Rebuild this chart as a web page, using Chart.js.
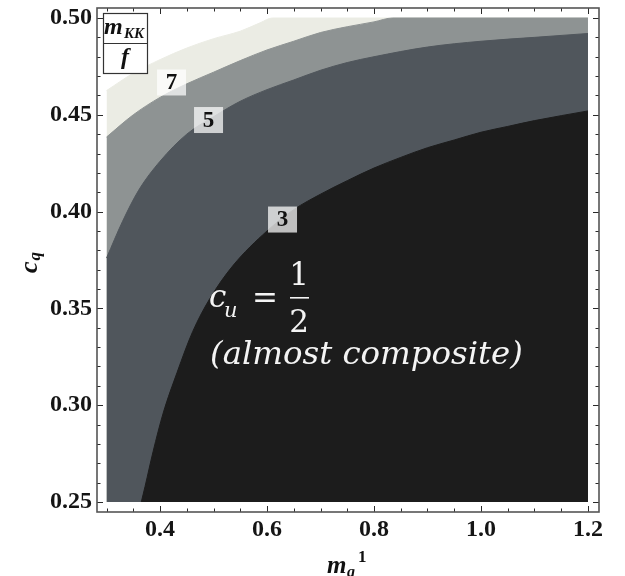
<!DOCTYPE html>
<html lang="en">
<head>
<meta charset="UTF-8">
<title>m_KK / f contours</title>
<script src="https://cdn.jsdelivr.net/npm/chart.js"></script>
<style>
  html, body { margin: 0; padding: 0; background: #fff; }
</style>
</head>
<body>
<canvas id="chart" width="625" height="576"></canvas>
<script>
// contour boundaries (x = m_q^1, y = c_q)
const c3X = [0.365, 0.372, 0.387, 0.406, 0.432, 0.461, 0.493, 0.536, 0.600, 0.650, 0.700, 0.750, 0.800, 0.850, 0.900, 0.950, 1.000, 1.050, 1.100, 1.200];
const c3Y = [0.250, 0.258, 0.276, 0.296, 0.317, 0.338, 0.355, 0.372, 0.390, 0.401, 0.409, 0.416, 0.4225, 0.428, 0.433, 0.437, 0.441, 0.444, 0.447, 0.452];

const c5X = [0.30, 0.33, 0.36, 0.40, 0.45, 0.50, 0.55, 0.60, 0.65, 0.70, 0.75, 0.80, 0.90, 1.00, 1.10, 1.20];
const c5Y = [0.376, 0.395, 0.411, 0.426, 0.440, 0.449, 0.457, 0.463, 0.468, 0.473, 0.477, 0.480, 0.485, 0.488, 0.490, 0.492];

const c7X = [0.30, 0.35, 0.40, 0.45, 0.50, 0.55, 0.60, 0.65, 0.70, 0.75, 0.80, 0.835, 1.20];
const c7Y = [0.4385, 0.450, 0.459, 0.466, 0.472, 0.478, 0.4835, 0.488, 0.4925, 0.4955, 0.498, 0.500, 0.500];

const c9X = [0.30, 0.35, 0.40, 0.45, 0.50, 0.55, 0.587, 0.61, 1.20];
const c9Y = [0.4625, 0.4715, 0.4785, 0.4845, 0.4893, 0.4932, 0.4975, 0.500, 0.500];

// contour labels
const labelText = ['7', '5', '3'];
const labelX = [0.4215, 0.4907, 0.629];
const labelY = [0.4667, 0.4473, 0.3959];

// axis ticks
const xMajor = [0.4, 0.6, 0.8, 1.0, 1.2];
const xMajorLabels = ['0.4', '0.6', '0.8', '1.0', '1.2'];
const xMinor = [0.3, 0.35, 0.45, 0.5, 0.55, 0.65, 0.7, 0.75, 0.85, 0.9, 0.95, 1.05, 1.1, 1.15];
const yMajor = [0.25, 0.30, 0.35, 0.40, 0.45, 0.50];
const yMajorLabels = ['0.25', '0.30', '0.35', '0.40', '0.45', '0.50'];
const yMinor = [0.26, 0.27, 0.28, 0.29, 0.31, 0.32, 0.33, 0.34, 0.36, 0.37, 0.38, 0.39,
                0.41, 0.42, 0.43, 0.44, 0.46, 0.47, 0.48, 0.49];

const pts = (xs, ys) => xs.map((x, i) => ({ x: x, y: ys[i] }));
const near = (a, b) => Math.abs(a - b) < 1e-9;
const SERIF = '"Liberation Serif", "Times New Roman", serif';
const tickFont = { family: SERIF, size: 24, weight: 'bold' };

function region(data, color) {
    return {
        data: data,
        borderColor: color,
        backgroundColor: color,
        borderWidth: 1,
        pointRadius: 0,
        fill: { value: 0.25 },
        cubicInterpolationMode: 'monotone'
    };
}

// contour labels in small grey boxes, and the white annotation
const contourLabels = {
    id: 'contourLabels',
    afterDatasetsDraw(chart) {
        const { ctx, scales: { x, y } } = chart;
        ctx.save();
        ctx.font = 'bold 23px ' + SERIF;
        ctx.textAlign = 'center';
        ctx.textBaseline = 'middle';
        labelText.forEach((t, i) => {
            const px = x.getPixelForValue(labelX[i]);
            const py = y.getPixelForValue(labelY[i]);
            ctx.fillStyle = 'rgba(255,255,255,0.72)';
            ctx.fillRect(px - 14.5, py - 13, 29, 26);
            ctx.fillStyle = '#111';
            ctx.fillText(t, px, py + 1);
        });

        // c_u = 1/2 (almost composite)
        const a = chart.chartArea;
        const ox = a.left, oy = a.top;
        ctx.fillStyle = '#f4f4f4';
        ctx.textAlign = 'left';
        ctx.textBaseline = 'alphabetic';
        ctx.font = 'italic 31px "DejaVu Serif", serif';
        ctx.fillText('c', ox + 112, oy + 299);
        ctx.font = 'italic 21px "DejaVu Serif", serif';
        ctx.fillText('u', ox + 127, oy + 309);
        ctx.font = '31px "DejaVu Serif", serif';
        ctx.textAlign = 'center';
        ctx.fillText('=', ox + 168, oy + 300);
        ctx.fillText('1', ox + 202, oy + 277);
        ctx.fillRect(ox + 193, oy + 289, 19, 1.6);
        ctx.fillText('2', ox + 202, oy + 324);
        ctx.textAlign = 'left';
        const txt = '(almost composite)';
        ctx.font = 'italic 32px "DejaVu Serif", serif';
        const w = ctx.measureText(txt).width;
        const fs = 32 * 313 / w;
        ctx.font = 'italic ' + fs.toFixed(1) + 'px "DejaVu Serif", serif';
        ctx.fillText(txt, ox + 113, oy + 356);
        ctx.restore();
    }
};

// frame with inward ticks on all four sides, plus the key box and axis titles
const frame = {
    id: 'frame',
    afterDraw(chart) {
        const { ctx, chartArea: a, scales: { x, y } } = chart;
        ctx.save();
        ctx.strokeStyle = '#2a2a2a';
        ctx.lineWidth = 1;
        ctx.beginPath();
        x.ticks.forEach(t => {
            const px = Math.round(x.getPixelForValue(t.value)) + 0.5;
            const len = xMajor.some(m => near(m, t.value)) ? 6 : 3.5;
            ctx.moveTo(px, a.bottom); ctx.lineTo(px, a.bottom - len);
            ctx.moveTo(px, a.top); ctx.lineTo(px, a.top + len);
        });
        y.ticks.forEach(t => {
            const py = Math.round(y.getPixelForValue(t.value)) + 0.5;
            const len = yMajor.some(m => near(m, t.value)) ? 6 : 3.5;
            ctx.moveTo(a.left, py); ctx.lineTo(a.left + len, py);
            ctx.moveTo(a.right, py); ctx.lineTo(a.right - len, py);
        });
        ctx.stroke();

        ctx.strokeStyle = '#555';
        ctx.lineWidth = 1.6;
        ctx.strokeRect(a.left, a.top, a.right - a.left, a.bottom - a.top);

        // key box m_KK / f
        const bx = a.left + 6, by = a.top + 5;
        ctx.fillStyle = '#fff';
        ctx.fillRect(bx, by, 44, 60);
        ctx.strokeStyle = '#333';
        ctx.lineWidth = 1.2;
        ctx.strokeRect(bx + 0.5, by + 0.5, 44, 60);
        ctx.beginPath();
        ctx.moveTo(bx, by + 30.5); ctx.lineTo(bx + 44, by + 30.5);
        ctx.stroke();
        ctx.fillStyle = '#111';
        ctx.font = 'italic bold 24px ' + SERIF;
        ctx.fillText('m', bx + 1, by + 21);
        ctx.font = 'italic bold 15px ' + SERIF;
        ctx.fillText('KK', bx + 21, by + 25);
        ctx.font = 'italic bold 24px ' + SERIF;
        ctx.textAlign = 'center';
        ctx.fillText('f', bx + 22, by + 51);

        // x title m_q^1
        ctx.textAlign = 'left';
        ctx.font = 'italic bold 25px ' + SERIF;
        ctx.fillText('m', 327, 573);
        ctx.font = 'italic bold 16px ' + SERIF;
        ctx.fillText('q', 347, 577);
        ctx.font = 'bold 17px ' + SERIF;
        ctx.fillText('1', 358, 562);

        // y title c_q
        ctx.translate(37, 273);
        ctx.rotate(-Math.PI / 2);
        ctx.font = 'italic bold 26px ' + SERIF;
        ctx.fillText('c', 0, 0);
        const cw = ctx.measureText('c').width;
        ctx.font = 'italic bold 17px ' + SERIF;
        ctx.fillText('q', cw + 1, 3);
        ctx.restore();
    }
};

new Chart(document.getElementById('chart').getContext('2d'), {
    type: 'line',
    data: {
        datasets: [
            region(pts(c3X, c3Y), '#1c1c1c'),
            region(pts(c5X, c5Y), '#50565c'),
            region(pts(c7X, c7Y), '#8e9393'),
            region(pts(c9X, c9Y), '#ebece4')
        ]
    },
    options: {
        responsive: false,
        animation: false,
        devicePixelRatio: 1,
        layout: { padding: { top: 8, right: 26, left: 0, bottom: 0 } },
        plugins: { legend: { display: false }, tooltip: { enabled: false } },
        scales: {
            x: {
                type: 'linear',
                min: 0.2822,
                max: 1.2206,
                afterBuildTicks: s => {
                    s.ticks = xMajor.concat(xMinor).sort((p, q) => p - q).map(v => ({ value: v }));
                },
                afterFit: s => {
                    s.height = 64;
                    s.paddingLeft = 0;
                    s.paddingRight = 0;
                },
                grid: { display: false, drawTicks: false },
                border: { display: false },
                ticks: {
                    autoSkip: false,
                    maxRotation: 0,
                    padding: 3,
                    color: '#151515',
                    font: tickFont,
                    callback: v => {
                        const i = xMajor.findIndex(m => near(m, v));
                        return i >= 0 ? xMajorLabels[i] : '';
                    }
                }
            },
            y: {
                type: 'linear',
                min: 0.24483,
                max: 0.50517,
                afterBuildTicks: s => {
                    s.ticks = yMajor.concat(yMinor).sort((p, q) => p - q).map(v => ({ value: v }));
                },
                afterFit: s => {
                    s.width = 97;
                    s.paddingTop = 0;
                    s.paddingBottom = 0;
                },
                grid: { display: false, drawTicks: false },
                border: { display: false },
                ticks: {
                    autoSkip: false,
                    padding: 5,
                    color: '#151515',
                    font: tickFont,
                    callback: v => {
                        const i = yMajor.findIndex(m => near(m, v));
                        return i >= 0 ? yMajorLabels[i] : '';
                    }
                }
            }
        }
    },
    plugins: [contourLabels, frame]
});
</script>
</body>
</html>
